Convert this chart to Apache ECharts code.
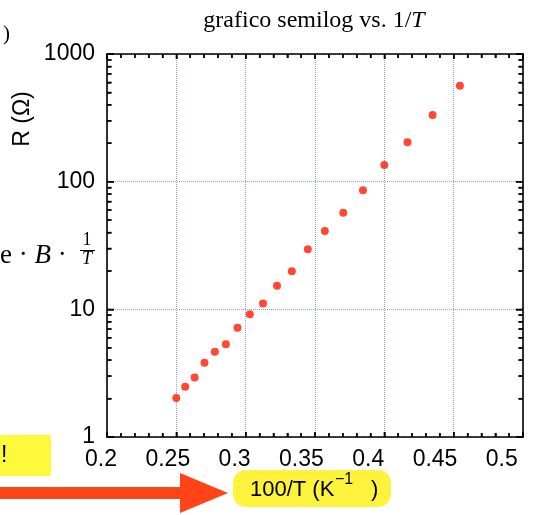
<!DOCTYPE html>
<html>
<head>
<meta charset="utf-8">
<script src="https://cdn.jsdelivr.net/npm/echarts@6/dist/echarts.min.js"></script>
<style>
html,body{margin:0;padding:0;background:#fff;}
#chart{width:542px;height:515px;}
</style>
</head>
<body>
<div id="chart"></div>
<script>
// Data
const invT = [0.25, 0.2564, 0.2632, 0.2703, 0.2778, 0.2857, 0.2941, 0.3030, 0.3125, 0.3226,
              0.3333, 0.3448, 0.3571, 0.3704, 0.3846, 0.4000, 0.4167, 0.4348, 0.4545];
const resistance = [2.02, 2.47, 2.93, 3.82, 4.65, 5.32, 7.18, 9.14, 11.1, 15.3,
                    19.9, 29.5, 41.1, 57.1, 85.6, 135, 204, 333, 565];
const xTickLabels = [0.2, 0.25, 0.3, 0.35, 0.4, 0.45, 0.5];
const yTickLabels = [1, 10, 100, 1000];

const SANS = '"Liberation Sans", Arial, Helvetica, sans-serif';
const SERIF = '"Liberation Serif", "Times New Roman", serif';
const GRID_COLOR = '#9696ea';

const xLabelRich = {};
xTickLabels.forEach((v, i) => {
  const shift = 6 + 2.53 * i;
  xLabelRich['s' + i] = {fontFamily: SANS, fontSize: 23, color: '#000', padding: [0, 2 * shift, 0, 0]};
});

const chart = echarts.init(document.getElementById('chart'), null, {renderer: 'canvas'});

const xMin = xTickLabels[0], xMax = xTickLabels[xTickLabels.length - 1];
const yMin = yTickLabels[0], yMax = yTickLabels[yTickLabels.length - 1];
const xStep = 0.05, xMinorSplit = 5;

const tickStyle = {color: '#000', width: 1.5};
const axisLineStyle = {color: '#000', width: 1.6};

const option = {
  backgroundColor: '#fff',
  animation: false,
  grid: {left: 107, top: 54, right: 19, bottom: 78},
  xAxis: [
    {
      type: 'value', min: xMin, max: xMax, interval: xStep, position: 'bottom',
      axisLine: {show: true, lineStyle: axisLineStyle},
      axisTick: {show: true, inside: true, length: 5, lineStyle: tickStyle},
      minorTick: {show: true, splitNumber: xMinorSplit, length: 4, lineStyle: tickStyle},
      splitLine: {show: true, lineStyle: {color: GRID_COLOR, width: 1, type: 'dotted'}},
      axisLabel: {show: true, margin: 11, rich: xLabelRich,
        formatter: (v, i) => '{s' + i + '|' + String(Math.round(v * 100) / 100) + '}'}
    },
    {
      type: 'value', min: xMin, max: xMax, interval: xStep, position: 'top',
      axisLine: {show: true, lineStyle: axisLineStyle},
      axisTick: {show: true, inside: true, length: 5, lineStyle: tickStyle},
      minorTick: {show: true, splitNumber: xMinorSplit, length: 4, lineStyle: tickStyle},
      splitLine: {show: false},
      axisLabel: {show: false}
    }
  ],
  yAxis: [
    {
      type: 'log', logBase: 10, min: yMin, max: yMax, position: 'left',
      axisLine: {show: true, lineStyle: axisLineStyle},
      axisTick: {show: true, inside: true, length: 7, lineStyle: tickStyle},
      minorTick: {show: true, splitNumber: 9, length: 4.5, lineStyle: tickStyle},
      splitLine: {show: true, lineStyle: {color: GRID_COLOR, width: 1, type: 'dotted'}},
      axisLabel: {show: true, margin: 12, color: '#000', fontSize: 23, fontFamily: SANS,
        padding: [0, 0, 6, 0],
        formatter: v => String(Math.round(v))}
    },
    {
      type: 'log', logBase: 10, min: yMin, max: yMax, position: 'right',
      axisLine: {show: true, lineStyle: axisLineStyle},
      axisTick: {show: true, inside: true, length: 7, lineStyle: tickStyle},
      minorTick: {show: true, splitNumber: 9, length: 4.5, lineStyle: tickStyle},
      splitLine: {show: false},
      axisLabel: {show: false}
    }
  ],
  series: [
    {
      type: 'scatter', xAxisIndex: 0, yAxisIndex: 0,
      data: invT.map((x, i) => [x, resistance[i]]),
      symbol: 'circle', symbolSize: 8,
      itemStyle: {color: '#ff1c00'},
      z: 5
    }
  ]
};

chart.setOption(option);

// Inside tick marks on all four sides, placed through the axis scales
const tickEls = [];
const px = v => chart.convertToPixel({xAxisIndex: 0}, v);
const py = v => chart.convertToPixel({yAxisIndex: 0}, v);
const L = px(xMin), R = px(xMax), B = py(yMin), T = py(yMax);
function tick(x1, y1, x2, y2) {
  if ([x1, y1, x2, y2].some(n => !isFinite(n))) return;
  tickEls.push({type: 'line', shape: {x1, y1, x2, y2}, style: {stroke: '#000', lineWidth: 1.3}, z: 20, silent: true});
}
const nX = Math.round((xMax - xMin) / xStep * xMinorSplit);
for (let j = 0; j <= nX; j++) {
  const x = px(xMin + (xMax - xMin) * j / nX);
  const len = (j % xMinorSplit === 0) ? 5 : 4;
  tick(x, B, x, B - len);
  tick(x, T, x, T + len);
}
for (let d = 0; d < yTickLabels.length; d++) {
  const base = yTickLabels[d];
  const ks = d < yTickLabels.length - 1 ? [1, 2, 3, 4, 5, 6, 7, 8, 9] : [1];
  ks.forEach(k => {
    const y = py(base * k);
    const len = k === 1 ? 7 : 4.5;
    tick(L, y, L + len, y);
    tick(R, y, R - len, y);
  });
}

chart.setOption({graphic: tickEls.concat([
  // title
  {type: 'text', x: 314, y: 21, z: 10,
   style: {text: '{n|grafico semilog vs. 1/}{i|T}', align: 'center', verticalAlign: 'middle',
     rich: {n: {fontFamily: SERIF, fontSize: 24, fill: '#000'},
            i: {fontFamily: SERIF, fontSize: 24, fontStyle: 'italic', fill: '#000'}}}},
  // cropped parenthesis top-left
  {type: 'text', x: 3, y: 34, z: 10,
   style: {text: ')', fontFamily: SERIF, fontSize: 21, fill: '#000', verticalAlign: 'middle'}},
  // y axis name
  {type: 'text', x: 23, y: 119, rotation: Math.PI / 2, z: 10,
   style: {text: 'R (Ω)', fontFamily: SANS, fontSize: 23, fill: '#000', align: 'center', verticalAlign: 'middle'}},
  // formula fragment on the left
  {type: 'text', x: 0, y: 256, z: 10,
   style: {text: '{n|e · }{i|B}{n| ·}', verticalAlign: 'middle',
     rich: {n: {fontFamily: SERIF, fontSize: 27, fill: '#000'},
            i: {fontFamily: SERIF, fontSize: 27, fontStyle: 'italic', fill: '#000'}}}},
  {type: 'text', x: 87, y: 240, z: 10,
   style: {text: '1', fontFamily: SERIF, fontSize: 18, fill: '#000', align: 'center', verticalAlign: 'middle'}},
  {type: 'line', shape: {x1: 80, y1: 250.5, x2: 95, y2: 250.5}, style: {stroke: '#000', lineWidth: 1}, z: 10},
  {type: 'text', x: 87, y: 259, z: 10,
   style: {text: 'T', fontFamily: SERIF, fontSize: 18, fontStyle: 'italic', fill: '#000', align: 'center', verticalAlign: 'middle'}},
  // yellow note box with "!"
  {type: 'rect', shape: {x: 0, y: 435, width: 51, height: 41}, style: {fill: '#fff93c'}, z: 8},
  {type: 'text', x: 1, y: 456, z: 10,
   style: {text: '!', fontFamily: SANS, fontSize: 23, fill: '#000', verticalAlign: 'middle'}},
  // red arrow
  {type: 'rect', shape: {x: 0, y: 487, width: 182, height: 12}, style: {fill: '#ff4418'}, z: 8},
  {type: 'polygon', shape: {points: [[180, 473], [228, 493], [180, 513]]}, style: {fill: '#ff4418'}, z: 8},
  // x axis name in yellow rounded box
  {type: 'rect', shape: {x: 233, y: 470, width: 158, height: 37, r: 13}, style: {fill: '#fdf23c'}, z: 8},
  {type: 'text', x: 250, y: 490, z: 10,
   style: {text: '100/T (K', fontFamily: SANS, fontSize: 22, fill: '#000', align: 'left', verticalAlign: 'middle'}},
  {type: 'text', x: 335, y: 480, z: 10,
   style: {text: '−1', fontFamily: SANS, fontSize: 16, fill: '#000', align: 'left', verticalAlign: 'middle'}},
  {type: 'text', x: 371, y: 490, z: 10,
   style: {text: ')', fontFamily: SANS, fontSize: 22, fill: '#000', align: 'left', verticalAlign: 'middle'}}
])});
</script>
</body>
</html>
